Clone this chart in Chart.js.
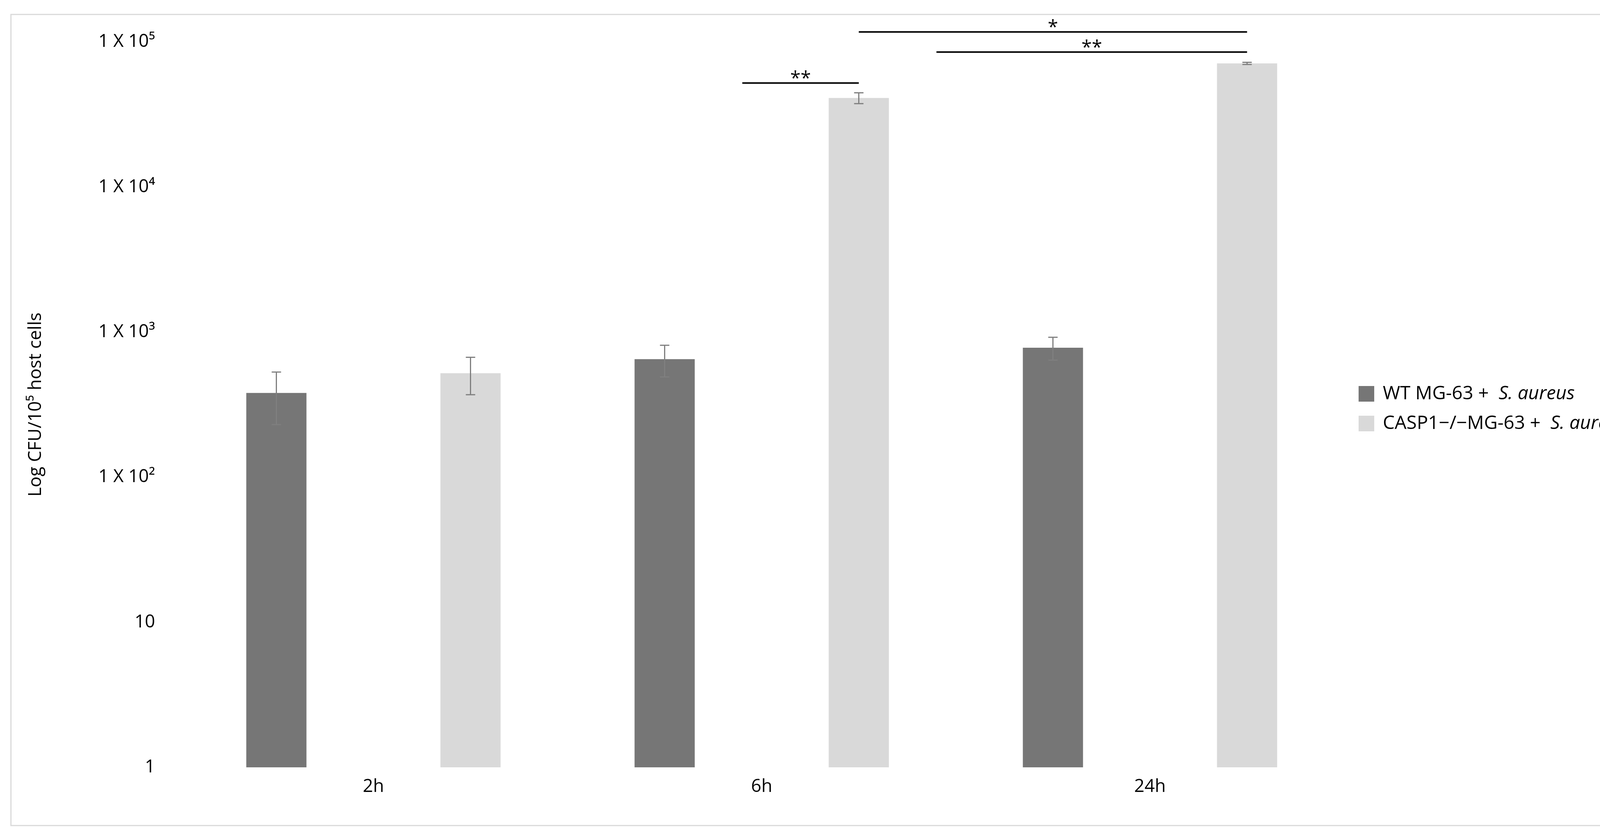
<!DOCTYPE html>
<html>
<head>
<meta charset="utf-8">
<script src="https://cdn.jsdelivr.net/npm/chart.js@4.4.0/dist/chart.umd.min.js"></script>
<style>
  html, body { margin: 0; padding: 0; background: #ffffff; overflow: hidden; }
  #chart { display: block; width: 100vw; height: 100vh; }
</style>
</head>
<body>
<canvas id="chart" width="4419" height="2150"></canvas>
<script>
const categories = ["2h", "6h", "24h"];
const wtValues = [380, 650, 780];
const wtErrors = [150, 160, 140];
const caspValues = [520, 41000, 71000];
const caspErrors = [150, 3500, 1200];
const tickLabels = { 1: "1", 10: "10", 100: "1 X 10²", 1000: "1 X 10³", 10000: "1 X 10⁴", 100000: "1 X 10⁵" };
// significance: [fromCategory, fromSeries, toCategory, toSeries, yValue, label]
const sigBars = [
    [0.95, 0, 1, 1, 52000, "**"],
    [1, 1, 2, 1, 117000, "*"],
    [1.45, 0, 2, 1, 85000, "**"]
];

const FONT = "'Open Sans', 'Liberation Sans', sans-serif";

function barX(chart, cat, series)
{
    const i = Math.floor(cat);
    if (cat === i)
        return chart.getDatasetMeta(series).data[i].x;
    return chart.scales.x.getPixelForValue(cat);
}

const extras = {
    id: 'extras',
    afterDatasetsDraw(chart)
    {
        const ctx = chart.ctx;
        const y = chart.scales.y;
        ctx.save();
        // error bars
        [[wtValues, wtErrors], [caspValues, caspErrors]].forEach((pair, s) =>
        {
            const meta = chart.getDatasetMeta(s);
            pair[0].forEach((v, i) =>
            {
                const cx = meta.data[i].x;
                const top = y.getPixelForValue(v + pair[1][i]);
                const bot = y.getPixelForValue(Math.max(v - pair[1][i], 1));
                ctx.strokeStyle = '#7f7f7f';
                ctx.lineWidth = 3;
                ctx.beginPath();
                ctx.moveTo(cx, top); ctx.lineTo(cx, bot);
                ctx.moveTo(cx - 12, top); ctx.lineTo(cx + 12, top);
                ctx.moveTo(cx - 12, bot); ctx.lineTo(cx + 12, bot);
                ctx.stroke();
            });
        });
        // significance lines
        sigBars.forEach(b =>
        {
            const x1 = barX(chart, b[0], b[1]);
            const x2 = barX(chart, b[2], b[3]);
            const py = y.getPixelForValue(b[4]);
            ctx.strokeStyle = '#000000';
            ctx.lineWidth = 4;
            ctx.beginPath();
            ctx.moveTo(x1, py); ctx.lineTo(x2, py);
            ctx.stroke();
            ctx.fillStyle = '#000000';
            ctx.font = "48px " + FONT;
            ctx.textAlign = 'center';
            ctx.textBaseline = 'bottom';
            ctx.fillText(b[5], (x1 + x2) / 2, py + 14);
        });
        // legend
        const items = [["#767676", "WT MG-63 +  "], ["#d9d9d9", "CASP1−/−MG-63 +  "]];
        items.forEach((it, k) =>
        {
            const ly = 1008 + k * 76;
            ctx.fillStyle = it[0];
            ctx.fillRect(3478, ly - 20, 40, 40);
            ctx.fillStyle = '#000000';
            ctx.font = "48px " + FONT;
            ctx.textAlign = 'left';
            ctx.textBaseline = 'middle';
            ctx.fillText(it[1], 3540, ly);
            const w = ctx.measureText(it[1]).width;
            ctx.font = "italic 48px " + FONT;
            ctx.fillText("S. aureus", 3540 + w, ly);
        });
        // border
        ctx.strokeStyle = '#d9d9d9';
        ctx.lineWidth = 3;
        ctx.strokeRect(28, 37, 4360, 2076);
        ctx.restore();
    }
};

new Chart(document.getElementById('chart'),
{
    type: 'bar',
    data:
    {
        labels: categories,
        datasets: [
            { label: 'WT', data: wtValues, backgroundColor: '#767676', barPercentage: 0.31, categoryPercentage: 1 },
            { label: 'CASP1', data: caspValues, backgroundColor: '#d9d9d9', barPercentage: 0.31, categoryPercentage: 1 }
        ]
    },
    options:
    {
        responsive: false,
        animation: false,
        devicePixelRatio: 1,
        layout: { padding: { left: 60, right: 978, top: 107, bottom: 76 } },
        plugins: { legend: { display: false }, tooltip: { enabled: false } },
        scales:
        {
            x:
            {
                grid: { display: false, drawTicks: false },
                border: { display: false },
                ticks: { color: '#000000', font: { size: 46, family: FONT }, padding: 22 },
                afterFit(scale) { scale.height = 110; }
            },
            y:
            {
                type: 'logarithmic',
                min: 1,
                max: 100000,
                grid: { display: false, drawTicks: false },
                border: { display: false },
                afterBuildTicks(scale)
                {
                    scale.ticks = Object.keys(tickLabels).map(v => ({ value: Number(v) }));
                },
                ticks:
                {
                    color: '#000000',
                    font: { size: 46, family: FONT },
                    padding: 62,
                    callback: v => tickLabels[v] || ''
                },
                title:
                {
                    display: true,
                    text: 'Log CFU/10⁵ host cells',
                    color: '#000000',
                    font: { size: 46, family: FONT }
                },
                afterFit(scale) { scale.width = 399; }
            }
        }
    },
    plugins: [extras]
});
</script>
</body>
</html>
